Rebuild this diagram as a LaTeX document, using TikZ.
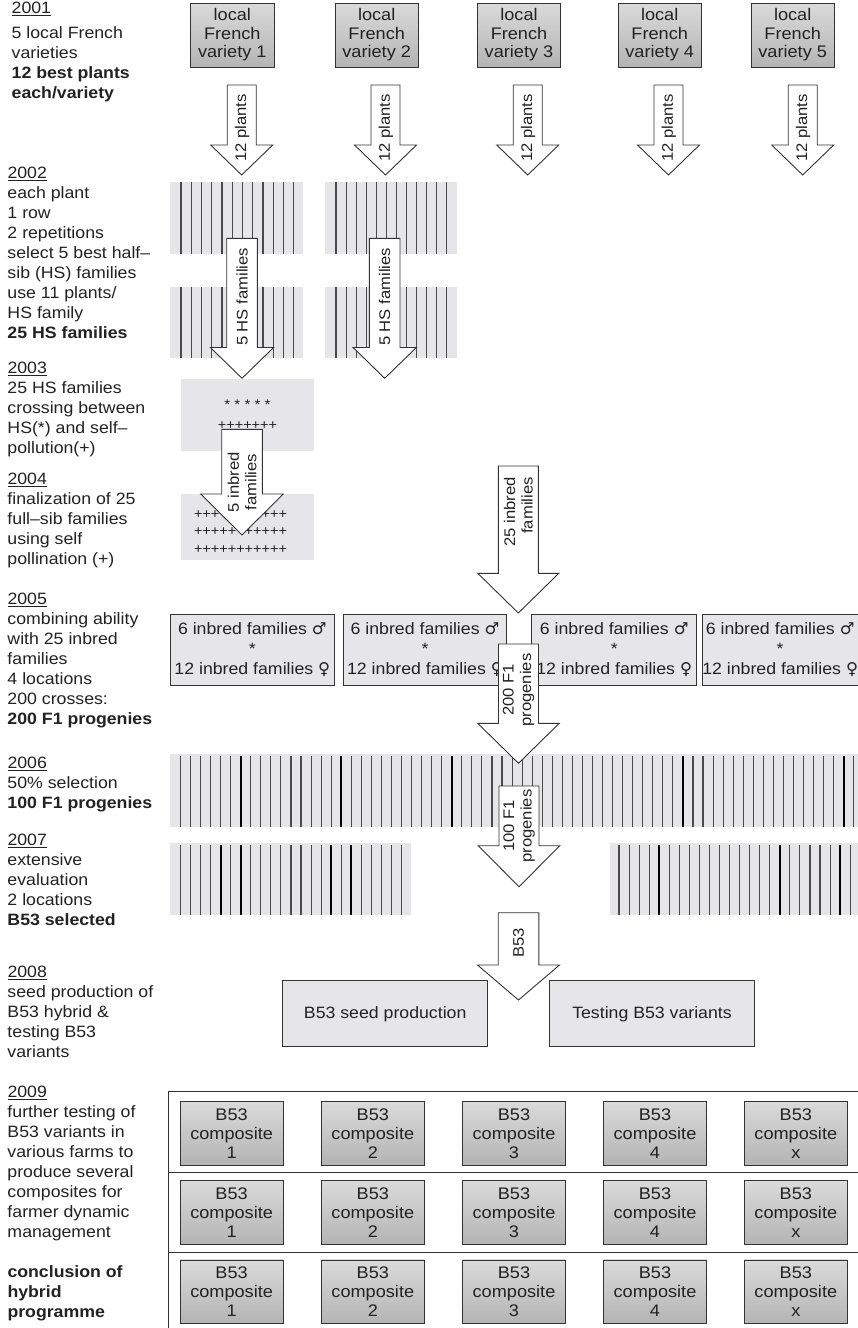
\documentclass[tikz,border=0pt]{standalone}
\usepackage{fontspec}
\setmainfont{Liberation Sans}[FakeStretch=1.08]
\newfontfamily\symf{DejaVu Sans}
\definecolor{ink}{HTML}{222222}
\definecolor{edge}{HTML}{333333}
\definecolor{pale}{HTML}{E6E6E8}
\definecolor{stripe}{HTML}{4A4A4A}
\definecolor{gtop}{HTML}{DADADA}
\definecolor{gbot}{HTML}{B4B4B4}
\tikzset{
 lefttext/.style={anchor=north west, align=left, inner sep=0pt, text=ink, font=\fontsize{16.4}{20}\selectfont},
 varbox/.style={draw=edge, line width=0.9pt, top color=gtop, bottom color=gbot, minimum width=83.3pt, minimum height=64pt, inner sep=0pt, align=center, text=ink, font=\fontsize{16.8}{18.6}\selectfont},
 compbox/.style={varbox, minimum width=103pt, minimum height=63.5pt, font=\fontsize{16.8}{19}\selectfont},
 crossbox/.style={draw=edge, line width=0.9pt, fill=pale, minimum height=71pt, inner sep=0pt, align=center, text=ink, font=\fontsize{16.4}{20}\selectfont},
 seedbox/.style={draw=edge, line width=0.9pt, fill=pale, minimum width=205pt, minimum height=66pt, inner sep=0pt, text=ink, font=\fontsize{16.4}{20}\selectfont},
 barrow/.style={draw=edge, fill=white, line width=0.9pt, line join=miter},
 arrowtext/.style={rotate=90, inner sep=0pt, align=center, text=ink, font=\fontsize{15.4}{17.5}\selectfont},
 thinstripe/.style={draw=stripe, line width=1.1pt},
 thickstripe/.style={draw=black, line width=1.8pt},
 frameline/.style={draw=edge, line width=0.9pt},
 marks/.style={inner sep=0pt, anchor=base, text=ink}
}
\newcommand\blockarrow[7]{%
  \draw[barrow] ({#1-#3},#2) -- ({#1+#3},#2) -- ({#1+#3},#4) -- ({#1+#5},#4) -- (#1,#6) coordinate (#7) -- ({#1-#5},#4) -- ({#1-#3},#4) -- cycle;}
\begin{document}
\begin{tikzpicture}[x=1pt,y=-1pt]
\useasboundingbox (0,0) rectangle (858,1328);
\fill[white] (0,0) rectangle (858,1328);
\clip (0,0) rectangle (858,1328);

% ---------- left column ----------
\node[lefttext] (t2001) at (11.5,2.3) {\underline{2001}\\[5pt]5 local French\\varieties\\\textbf{12 best plants}\\\textbf{each/variety}};
\node[lefttext] (t2002) at (7.3,166.6) {\underline{2002}\\each plant\\1 row\\2 repetitions\\select 5 best half–\\sib (HS) families\\use 11 plants/\\HS family\\\textbf{25 HS families}};
\node[lefttext] (t2003) at (7.3,361.6) {\underline{2003}\\25 HS families\\crossing between\\HS(*) and self–\\pollution(+)};
\node[lefttext] (t2004) at (7.3,473.3) {\underline{2004}\\finalization of 25\\full–sib families\\using self\\pollination (+)};
\node[lefttext] (t2005) at (7.3,593.3) {\underline{2005}\\combining ability\\with 25 inbred\\families\\4 locations\\200 crosses:\\\textbf{200 F1 progenies}};
\node[lefttext] (t2006) at (7.3,756.6) {\underline{2006}\\50\% selection\\\textbf{100 F1 progenies}};
\node[lefttext] (t2007) at (7.3,834.3) {\underline{2007}\\extensive\\evaluation\\2 locations\\\textbf{B53 selected}};
\node[lefttext] (t2008) at (7.3,966) {\underline{2008}\\seed production of\\B53 hybrid \&\\testing B53\\variants};
\node[lefttext] (t2009) at (7.3,1086) {\underline{2009}\\further testing of\\B53 variants in\\various farms to\\produce several\\composites for\\farmer dynamic\\management};
\node[lefttext] (tend) at (7.3,1265) {\textbf{conclusion of}\\\textbf{hybrid}\\\textbf{programme}};

% ---------- 2001 varieties ----------
\node[varbox] (v1) at (232.3,35) {local\\French\\variety 1};
\node[varbox] (v2) at (376.7,35) {local\\French\\variety 2};
\node[varbox] (v3) at (519,35) {local\\French\\variety 3};
\node[varbox] (v4) at (659.7,35) {local\\French\\variety 4};
\node[varbox] (v5) at (792.7,35) {local\\French\\variety 5};
\foreach \cx/\nm in {241.7/a1,385.5/a2,527.7/a3,668.5/a4,802.7/a5}{
  \blockarrow{\cx}{85}{14.5}{145}{31}{175}{\nm}
  \node[arrowtext] (\nm t) at (\cx+0.5,128) {12 plants};
}

% ---------- 2002 rows ----------
\fill[pale] (170,182.3) rectangle (302.7,254);
\fill[pale] (170,286.7) rectangle (302.7,358.3);
\fill[pale] (325,182.3) rectangle (457.3,254);
\fill[pale] (325,286.7) rectangle (457.3,358.3);
\foreach \i in {0,...,11}{
  \draw[thinstripe] ({181+10.25*\i},182.3) -- ({181+10.25*\i},254);
  \draw[thinstripe] ({181+10.25*\i},286.7) -- ({181+10.25*\i},358.3);
  \draw[thinstripe] ({336+10.06*\i},182.3) -- ({336+10.06*\i},254);
  \draw[thinstripe] ({336+10.06*\i},286.7) -- ({336+10.06*\i},358.3);
}
\blockarrow{242}{238.3}{15.3}{347.5}{31.6}{378.3}{hs1}
\node[arrowtext] (hs1t) at (242,297) {5 HS families};
\blockarrow{384.7}{238.3}{15.3}{347.5}{31.6}{378.3}{hs2}
\node[arrowtext] (hs2t) at (384.7,297) {5 HS families};

% ---------- 2003 / 2004 ----------
\fill[pale] (181,379.3) rectangle (314,450.7);
\node[marks, font=\fontsize{14}{14}\selectfont] (stars) at (247.5,409.7) {* * * * *};
\node[marks, font=\fontsize{13.4}{14}\selectfont] (plus0) at (247.5,429) {+++++++};
\fill[pale] (181,494) rectangle (314,560);
\node[marks, font=\fontsize{13.4}{14}\selectfont] (plus1) at (240.5,518) {+++++++++++};
\node[marks, font=\fontsize{13.4}{14}\selectfont] (plus2) at (240.5,535.7) {+++++++++++};
\node[marks, font=\fontsize{13.4}{14}\selectfont] (plus3) at (240.5,553) {+++++++++++};
\blockarrow{242}{429.3}{20.3}{494}{41.3}{535}{in5}
\node[arrowtext] (in5t) at (242,482) {5 inbred\\families};

\blockarrow{518.3}{466}{20}{573.3}{40.5}{613}{in25}
\node[arrowtext, align=right] (in25t) at (518.3,512) {25 inbred\\families};

% ---------- 2005 ----------
\node[crossbox, minimum width=163.3pt] (x1) at (252.35,649.5) {6 inbred families {\symf ♂}\\{*}\\12 inbred families {\symf ♀}};
\node[crossbox, minimum width=163.4pt] (x2) at (425,649.5) {6 inbred families {\symf ♂}\\{*}\\12 inbred families {\symf ♀}};
\node[crossbox, minimum width=165pt] (x3) at (614.2,649.5) {6 inbred families {\symf ♂}\\{*}\\12 inbred families {\symf ♀}};
\node[crossbox, minimum width=153.7pt] (x4) at (780.15,649.5) {6 inbred families {\symf ♂}\\{*}\\12 inbred families {\symf ♀}};

% ---------- 2006 ----------
\fill[pale] (169.8,754) rectangle (858,826.7);
\foreach \i in {0,...,67}{
  \draw[thinstripe] ({180.4+10.05*\i},756) -- ({180.4+10.05*\i},826.7);
}
\foreach \i in {6,16,27,50,66}{
  \draw[thickstripe] ({180.4+10.05*\i},756) -- ({180.4+10.05*\i},826.7);
}
\blockarrow{518.5}{644}{20}{723.3}{40.8}{763.3}{f200}
\node[arrowtext] (f200t) at (518.5,690) {200 F1\\progenies};
\blockarrow{519}{786}{20}{845.7}{40.8}{886.7}{f100}
\node[arrowtext] (f100t) at (519,826) {100 F1\\progenies};

% ---------- 2007 ----------
\fill[pale] (169.8,843.3) rectangle (411,915);
\fill[pale] (609.5,843.3) rectangle (858,915);
\foreach \i in {0,...,22}{
  \draw[thinstripe] ({180.4+10.05*\i},845) -- ({180.4+10.05*\i},915);
}
\foreach \i in {0,...,23}{
  \draw[thinstripe] ({619+10.05*\i},845) -- ({619+10.05*\i},915);
}
\foreach \i in {4,6,15,17}{
  \draw[thickstripe] ({180.4+10.05*\i},845) -- ({180.4+10.05*\i},915);
}
\foreach \i in {4,16,22}{
  \draw[thickstripe] ({619+10.05*\i},845) -- ({619+10.05*\i},915);
}

% ---------- 2008 ----------
\blockarrow{518.5}{912.7}{20.3}{965}{41}{1000}{b53}
\node[arrowtext] (b53t) at (518.5,943) {B53};
\node[seedbox] (seed) at (385.2,1013.8) {B53 seed production};
\node[seedbox] (test) at (652,1013.8) {Testing B53 variants};

% ---------- 2009 ----------
\coordinate (fa) at (168,1091.7);
\coordinate (fb) at (858,1091.7);
\coordinate (fc) at (168,1328);
\draw[frameline] (fc) -- (fa) -- (fb);
\draw[frameline] (168,1172.7) coordinate (s1a) -- (858,1172.7) coordinate (s1b);
\draw[frameline] (168,1252) coordinate (s2a) -- (858,1252) coordinate (s2b);
\foreach \r/\ry in {1/1133.3,2/1212.5,3/1291.7}{
  \foreach \c/\cx/\lab in {1/231.6/1,2/372.8/2,3/514/3,4/655/4,5/795.8/x}{
    \node[compbox] (c\r\c) at (\cx,\ry) {B53\\composite\\\lab};
  }
}
\end{tikzpicture}
\end{document}
